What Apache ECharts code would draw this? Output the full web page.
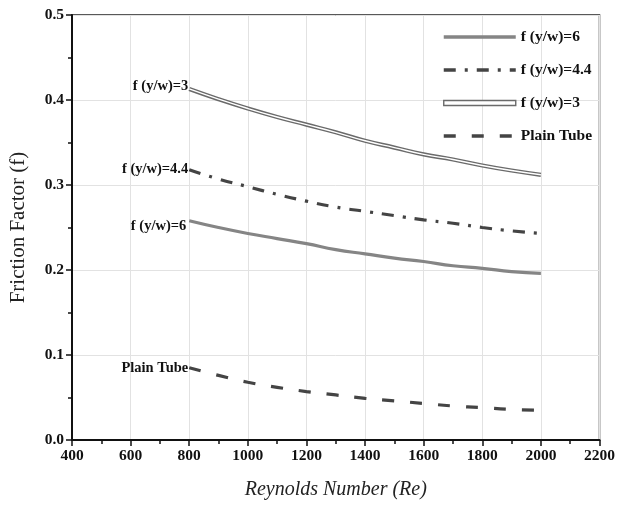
<!DOCTYPE html>
<html><head><meta charset="utf-8">
<script src="https://cdn.jsdelivr.net/npm/echarts@6/dist/echarts.min.js"></script>
<style>html,body{margin:0;padding:0;background:#fff}#c{width:618px;height:506px}</style>
</head><body><div id="c"></div>
<script>
const reynolds = [800, 900, 1000, 1100, 1200, 1300, 1400, 1500, 1600, 1700, 1800, 1900, 2000];
const f6 = [0.258, 0.250, 0.243, 0.237, 0.231, 0.224, 0.219, 0.214, 0.210, 0.205, 0.202, 0.198, 0.196];
const f44 = [0.318, 0.307, 0.298, 0.289, 0.281, 0.274, 0.269, 0.264, 0.259, 0.255, 0.250, 0.246, 0.243];
const f3 = [0.413, 0.401, 0.390, 0.380, 0.371, 0.362, 0.352, 0.344, 0.336, 0.330, 0.323, 0.317, 0.312];
const plain = [0.085, 0.076, 0.068, 0.062, 0.057, 0.053, 0.049, 0.046, 0.043, 0.040, 0.038, 0.036, 0.035];
const names = ['f (y/w)=6', 'f (y/w)=4.4', 'f (y/w)=3', 'Plain Tube'];

const serif = '"Liberation Serif","DejaVu Serif",serif';
function pairs(vals) { return reynolds.map((x, i) => [x, vals[i]]); }
function startLabel(vals, text, offset) {
  return {
    silent: true, symbol: 'circle', symbolSize: 0.01,
    label: {show: true, position: 'left', distance: 1, offset: offset, formatter: text,
      fontFamily: serif, fontWeight: 'bold', fontSize: 14.5, color: '#111'},
    data: [{coord: [reynolds[0], vals[0]]}]
  };
}
const chart = echarts.init(document.getElementById('c'));
chart.setOption({
  animation: false,
  grid: {left: 72, right: 18, top: 15, bottom: 66, show: true, borderColor: '#222', borderWidth: 1.5, backgroundColor: 'transparent'},
  legend: {
    left: 437, top: 24, orient: 'vertical', itemWidth: 72, itemHeight: 14, itemGap: 17,
    textStyle: {fontFamily: serif, fontWeight: 'bold', fontSize: 15.5, color: '#111'},
    data: [
      {name: names[0], itemStyle: {opacity: 0}, lineStyle: {width: 3.5}},
      {name: names[1], itemStyle: {opacity: 0}, lineStyle: {width: 3.5}},
      {name: names[2], icon: 'path://M0,0H72V5H0Z', itemStyle: {color: '#fff', borderColor: '#6a6a6a', borderWidth: 1.4}},
      {name: names[3], itemStyle: {opacity: 0}, lineStyle: {width: 3.5}}
    ]
  },
  xAxis: {
    type: 'value', min: 400, max: 2200, interval: 200,
    name: 'Reynolds Number (Re)', nameLocation: 'middle', nameGap: 40,
    nameTextStyle: {fontFamily: serif, fontStyle: 'italic', fontSize: 20, color: '#222'},
    axisLine: {lineStyle: {color: '#111', width: 2}},
    axisTick: {length: 6, lineStyle: {color: '#111', width: 1.5}},
    minorTick: {show: true, splitNumber: 2, length: 4, lineStyle: {color: '#111', width: 1.5}},
    axisLabel: {fontFamily: serif, fontWeight: 'bold', fontSize: 15.5, color: '#111', margin: 8,
      formatter: v => String(v)},
    splitLine: {show: true, lineStyle: {color: '#e2e2e2', width: 1}}
  },
  yAxis: {
    type: 'value', min: 0, max: 0.5, interval: 0.1,
    name: 'Friction Factor (f)', nameLocation: 'middle', nameGap: 43,
    nameTextStyle: {fontFamily: serif, fontSize: 21, color: '#222'},
    axisLine: {lineStyle: {color: '#111', width: 2}},
    axisTick: {length: 6, lineStyle: {color: '#111', width: 1.5}},
    minorTick: {show: true, splitNumber: 2, length: 4, lineStyle: {color: '#111', width: 1.5}},
    axisLabel: {fontFamily: serif, fontWeight: 'bold', fontSize: 15.5, color: '#111', margin: 8,
      formatter: v => v.toFixed(1)},
    splitLine: {show: true, lineStyle: {color: '#e2e2e2', width: 1}}
  },
  series: [
    {name: names[0], type: 'line', symbol: 'none', smooth: true, data: pairs(f6),
      lineStyle: {color: '#858585', width: 3.2}, itemStyle: {color: '#858585'},
      markPoint: startLabel(f6, 'f (y/w)=6', [-2, 6])},
    {name: names[1], type: 'line', symbol: 'none', smooth: true, data: pairs(f44),
      lineStyle: {color: '#444', width: 3.2, type: [12, 9, 3, 9]}, itemStyle: {color: '#444'},
      markPoint: startLabel(f44, 'f (y/w)=4.4', [0, 0])},
    {name: names[2], type: 'line', symbol: 'none', smooth: true, data: pairs(f3), z: 3,
      lineStyle: {color: '#6a6a6a', width: 4.2}, itemStyle: {color: '#6a6a6a'},
      markPoint: startLabel(f3, 'f (y/w)=3', [0, -3])},
    {name: 'f3inner', type: 'line', symbol: 'none', smooth: true, data: pairs(f3), z: 4,
      lineStyle: {color: '#fff', width: 1.4}, silent: true},
    {name: names[3], type: 'line', symbol: 'none', smooth: true, data: pairs(plain),
      lineStyle: {color: '#444', width: 3.2, type: [12, 16]}, itemStyle: {color: '#444'},
      markPoint: startLabel(plain, 'Plain Tube', [0, 0])}
  ]
});
</script></body></html>
